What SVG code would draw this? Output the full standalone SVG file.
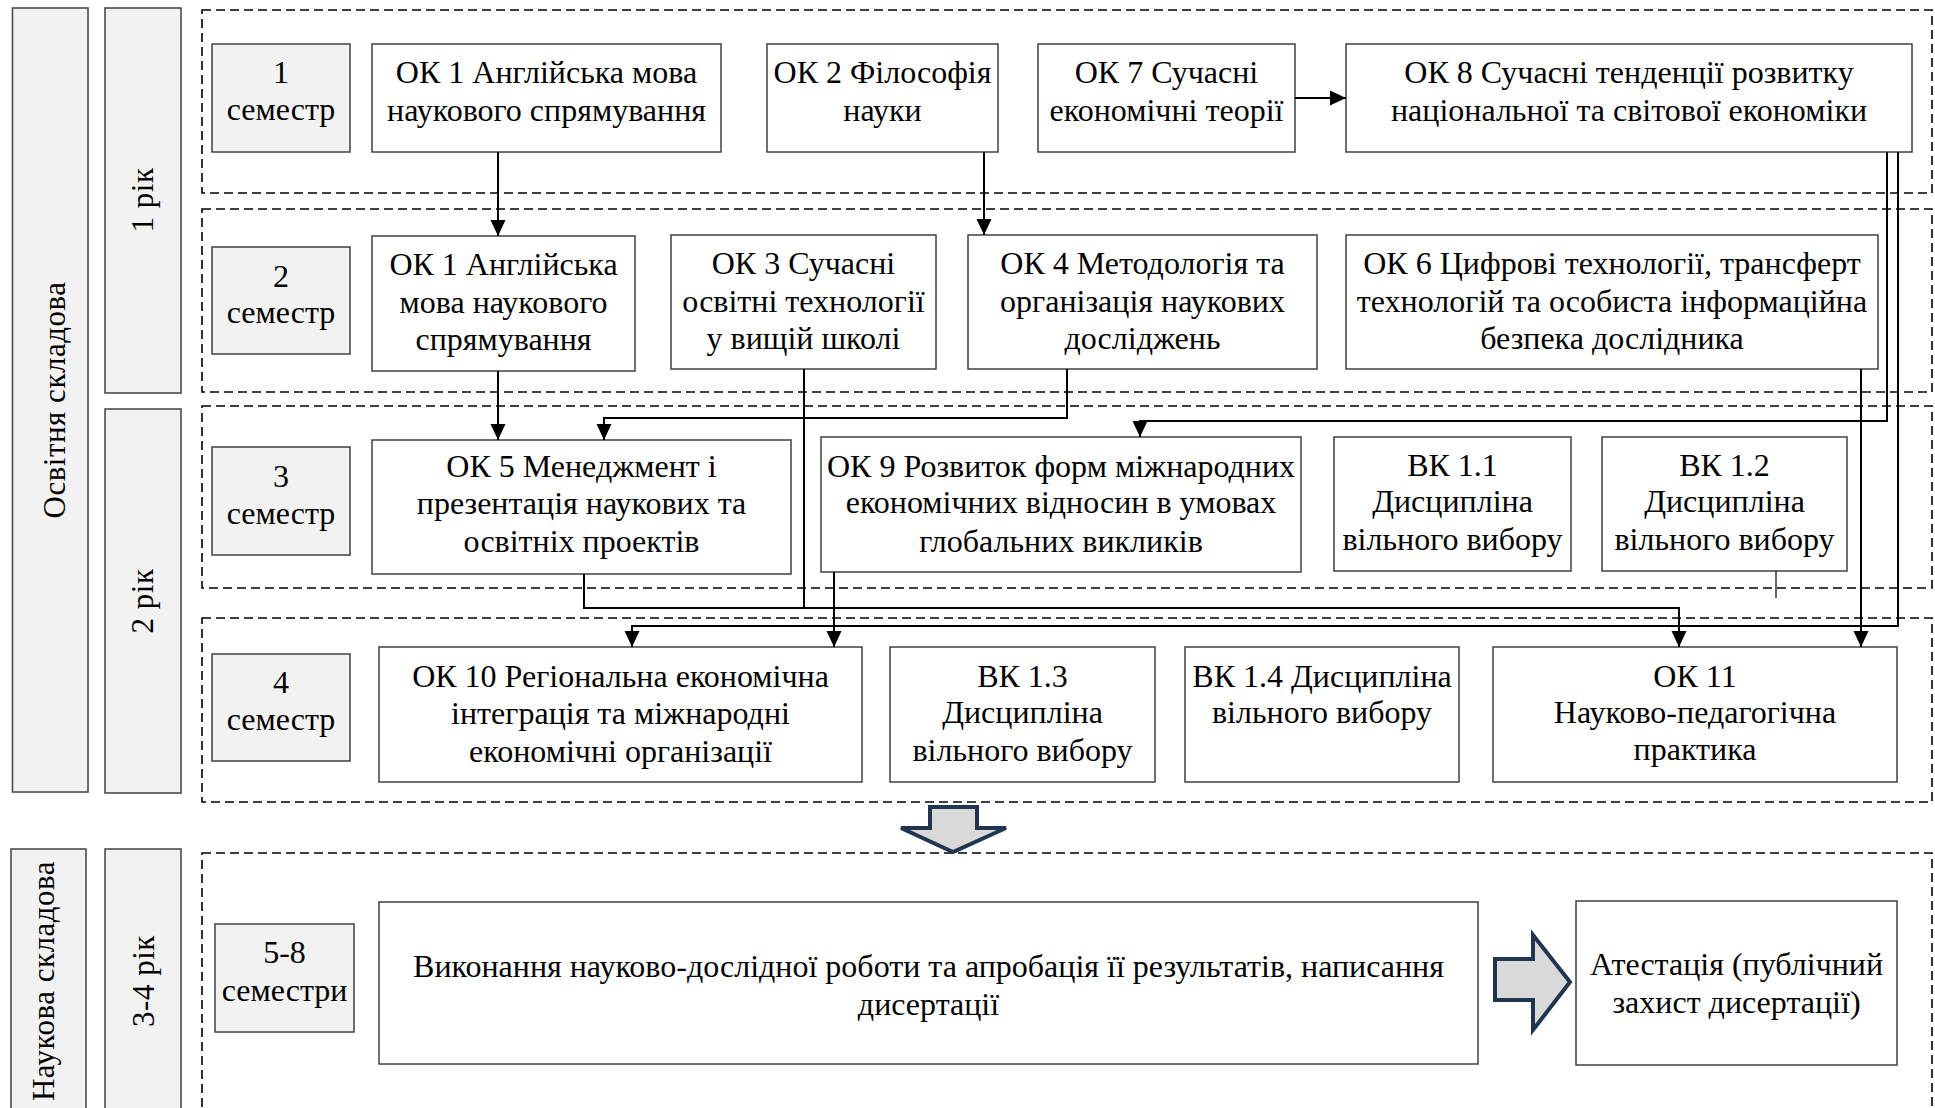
<svg xmlns="http://www.w3.org/2000/svg" width="1935" height="1108" viewBox="0 0 1935 1108">
<style>
  .bg{fill:#ffffff}
  .side{fill:#f2f2f2;stroke:#404040;stroke-width:1.5}
  .sem{fill:#f2f2f2;stroke:#404040;stroke-width:1.5}
  .node{fill:#ffffff;stroke:#404040;stroke-width:1.5}
  .frame{fill:none;stroke:#000000;stroke-width:1.6;stroke-dasharray:9 5}
  .t{font-family:"Liberation Serif","Times New Roman",serif;font-size:32px;fill:#000000;text-anchor:middle}
  .rt{font-family:"Liberation Serif","Times New Roman",serif;font-size:31px;fill:#000000;text-anchor:middle;letter-spacing:0.5px}
  .c{fill:none;stroke:#000000;stroke-width:2}
  .thin{fill:none;stroke:#000000;stroke-width:1.2}
  .block{fill:#d9d9d9;stroke:#1f3550;stroke-width:4;stroke-linejoin:miter}
</style>
<defs>
  <marker id="ah" viewBox="0 0 16 16" markerWidth="16" markerHeight="16" refX="16" refY="8" orient="auto" markerUnits="userSpaceOnUse">
    <path d="M0,0.5 L16,8 L0,15.5 Z" fill="#000000"/>
  </marker>
</defs>
<rect class="bg" x="0" y="0" width="1935" height="1108"/>

<!-- side labels -->
<g id="osvitnia">
  <rect class="side" x="12.5" y="8" width="75.5" height="784"/>
  <text class="rt" transform="translate(65,400) rotate(-90)">Освітня складова</text>
</g>
<g id="rik1">
  <rect class="side" x="105" y="8" width="76" height="385"/>
  <text class="rt" transform="translate(153,200) rotate(-90)">1 рік</text>
</g>
<g id="rik2">
  <rect class="side" x="105" y="409" width="76" height="384"/>
  <text class="rt" transform="translate(153,601) rotate(-90)">2 рік</text>
</g>
<g id="naukova">
  <rect class="side" x="11" y="849" width="75" height="280"/>
  <text class="rt" transform="translate(54,981) rotate(-90)">Наукова складова</text>
</g>
<g id="rik34">
  <rect class="side" x="105" y="849" width="76" height="280"/>
  <text class="rt" transform="translate(154,981) rotate(-90)">3-4 рік</text>
</g>

<!-- dashed frames -->
<g id="frames">
  <rect class="frame" x="202" y="10" width="1730" height="183"/>
  <rect class="frame" x="202" y="209" width="1730" height="183"/>
  <rect class="frame" x="202" y="406" width="1730" height="182"/>
  <rect class="frame" x="202" y="618" width="1730" height="184"/>
  <rect class="frame" x="202" y="853" width="1730" height="280"/>
</g>

<!-- semester boxes -->
<g id="sem1">
  <rect class="sem" x="212" y="44" width="138" height="108"/>
  <text class="t" x="281" y="83">1</text>
  <text class="t" x="281" y="120">семестр</text>
</g>
<g id="sem2">
  <rect class="sem" x="212" y="247" width="138" height="107"/>
  <text class="t" x="281" y="287">2</text>
  <text class="t" x="281" y="323">семестр</text>
</g>
<g id="sem3">
  <rect class="sem" x="212" y="447" width="138" height="108"/>
  <text class="t" x="281" y="487">3</text>
  <text class="t" x="281" y="524">семестр</text>
</g>
<g id="sem4">
  <rect class="sem" x="212" y="654" width="138" height="107"/>
  <text class="t" x="281" y="693">4</text>
  <text class="t" x="281" y="730">семестр</text>
</g>
<g id="sem58">
  <rect class="sem" x="215" y="924" width="139" height="108"/>
  <text class="t" x="284.5" y="963">5-8</text>
  <text class="t" x="284.5" y="1001">семестри</text>
</g>

<!-- row 1 -->
<g id="ok1">
  <rect class="node" x="372" y="44" width="349" height="108"/>
  <text class="t" x="546.5" y="83">ОК 1 Англійська мова</text>
  <text class="t" x="546.5" y="121">наукового спрямування</text>
</g>
<g id="ok2">
  <rect class="node" x="767" y="44" width="231" height="108"/>
  <text class="t" x="882.5" y="83">ОК 2 Філософія</text>
  <text class="t" x="882.5" y="121">науки</text>
</g>
<g id="ok7">
  <rect class="node" x="1038" y="44" width="257" height="108"/>
  <text class="t" x="1166.5" y="83">ОК 7 Сучасні</text>
  <text class="t" x="1166.5" y="121">економічні теорії</text>
</g>
<g id="ok8">
  <rect class="node" x="1346" y="44" width="566" height="108"/>
  <text class="t" x="1629" y="83">ОК 8 Сучасні тенденції розвитку</text>
  <text class="t" x="1629" y="121">національної та світової економіки</text>
</g>

<!-- row 2 -->
<g id="ok1b">
  <rect class="node" x="372" y="236" width="263" height="135"/>
  <text class="t" x="503.5" y="275">ОК 1 Англійська</text>
  <text class="t" x="503.5" y="313">мова наукового</text>
  <text class="t" x="503.5" y="350">спрямування</text>
</g>
<g id="ok3">
  <rect class="node" x="671" y="235" width="265" height="134"/>
  <text class="t" x="803.5" y="274">ОК 3 Сучасні</text>
  <text class="t" x="803.5" y="312">освітні технології</text>
  <text class="t" x="803.5" y="349">у вищій школі</text>
</g>
<g id="ok4">
  <rect class="node" x="968" y="235" width="349" height="134"/>
  <text class="t" x="1142.5" y="274">ОК 4 Методологія та</text>
  <text class="t" x="1142.5" y="312">організація наукових</text>
  <text class="t" x="1142.5" y="349">досліджень</text>
</g>
<g id="ok6">
  <rect class="node" x="1346" y="235" width="532" height="134"/>
  <text class="t" x="1612" y="274">ОК 6 Цифрові технології, трансферт</text>
  <text class="t" x="1612" y="312">технологій та особиста інформаційна</text>
  <text class="t" x="1612" y="349">безпека дослідника</text>
</g>

<!-- row 3 -->
<g id="ok5">
  <rect class="node" x="372" y="440" width="419" height="134"/>
  <text class="t" x="581.5" y="477">ОК 5 Менеджмент і</text>
  <text class="t" x="581.5" y="514">презентація наукових та</text>
  <text class="t" x="581.5" y="552">освітніх проектів</text>
</g>
<g id="ok9">
  <rect class="node" x="821" y="437" width="480" height="135"/>
  <text class="t" x="1061" y="477">ОК 9 Розвиток форм міжнародних</text>
  <text class="t" x="1061" y="513">економічних відносин в умовах</text>
  <text class="t" x="1061" y="552">глобальних викликів</text>
</g>
<g id="vk11">
  <rect class="node" x="1334" y="437" width="237" height="134"/>
  <text class="t" x="1452.5" y="476">ВК 1.1</text>
  <text class="t" x="1452.5" y="512">Дисципліна</text>
  <text class="t" x="1452.5" y="550">вільного вибору</text>
</g>
<g id="vk12">
  <rect class="node" x="1602" y="437" width="245" height="134"/>
  <text class="t" x="1724.5" y="476">ВК 1.2</text>
  <text class="t" x="1724.5" y="512">Дисципліна</text>
  <text class="t" x="1724.5" y="550">вільного вибору</text>
</g>

<!-- row 4 -->
<g id="ok10">
  <rect class="node" x="379" y="647" width="483" height="135"/>
  <text class="t" x="620.5" y="687">ОК 10 Регіональна економічна</text>
  <text class="t" x="620.5" y="724">інтеграція та міжнародні</text>
  <text class="t" x="620.5" y="762">економічні організації</text>
</g>
<g id="vk13">
  <rect class="node" x="890" y="647" width="265" height="135"/>
  <text class="t" x="1022.5" y="687">ВК 1.3</text>
  <text class="t" x="1022.5" y="723">Дисципліна</text>
  <text class="t" x="1022.5" y="761">вільного вибору</text>
</g>
<g id="vk14">
  <rect class="node" x="1185" y="647" width="274" height="135"/>
  <text class="t" x="1322" y="687">ВК 1.4 Дисципліна</text>
  <text class="t" x="1322" y="723">вільного вибору</text>
</g>
<g id="ok11">
  <rect class="node" x="1493" y="647" width="404" height="135"/>
  <text class="t" x="1695" y="687">ОК 11</text>
  <text class="t" x="1695" y="723">Науково-педагогічна</text>
  <text class="t" x="1695" y="760">практика</text>
</g>

<!-- research part -->
<g id="research">
  <rect class="node" x="379" y="902" width="1099" height="162"/>
  <text class="t" x="928.5" y="977">Виконання науково-дослідної роботи та апробація її результатів, написання</text>
  <text class="t" x="928.5" y="1015">дисертації</text>
</g>
<g id="attestation">
  <rect class="node" x="1576" y="901" width="321" height="164"/>
  <text class="t" x="1736.5" y="975">Атестація (публічний</text>
  <text class="t" x="1736.5" y="1013">захист дисертації)</text>
</g>

<!-- connectors -->
<g id="connectors">
  <path class="c" d="M498,152 V236" marker-end="url(#ah)"/>
  <path class="c" d="M984,152 V235" marker-end="url(#ah)"/>
  <path class="c" d="M1295,98 H1346" marker-end="url(#ah)"/>
  <path class="c" d="M498,371 V440" marker-end="url(#ah)"/>
  <path class="c" d="M1067,369 V418 H604 V440" marker-end="url(#ah)"/>
  <path class="c" d="M1887,152 V421 H1140 V437" marker-end="url(#ah)"/>
  <path class="c" d="M1898,152 V626 H632 V647" marker-end="url(#ah)"/>
  <path class="c" d="M804,369 V608 H1679 V647" marker-end="url(#ah)"/>
  <path class="c" d="M584,574 V608 H804"/>
  <path class="c" d="M834,572 V647" marker-end="url(#ah)"/>
  <path class="c" d="M1861,369 V647" marker-end="url(#ah)"/>
  <path class="thin" d="M1776,571 V598"/>
  <path class="block" d="M930,807 H977 V828 H1006 L953,852 L901,828 H930 Z"/>
  <path class="block" d="M1495,959 H1533 V935 L1570,982 L1533,1030 V1000 H1495 Z"/>
</g>
</svg>
